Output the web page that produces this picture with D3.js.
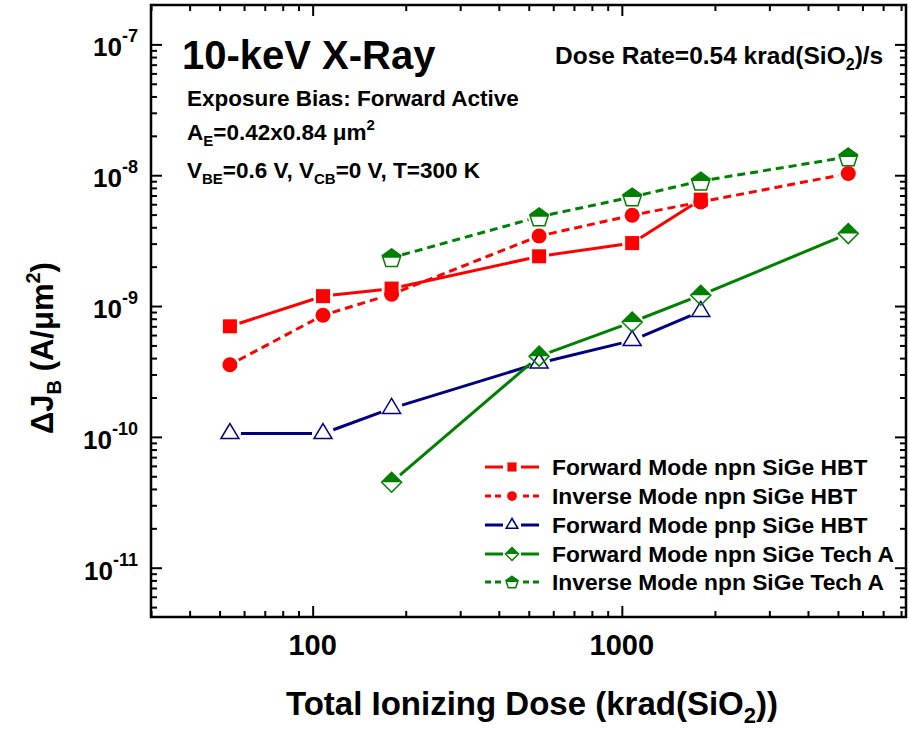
<!DOCTYPE html>
<html>
<head>
<meta charset="utf-8">
<script src="https://cdn.jsdelivr.net/npm/d3@7"></script>
<style>
  body { margin: 0; background: #fff; }
  svg { display: block; font-family: "Liberation Sans", Arial, sans-serif; font-weight: bold; }
</style>
</head>
<body>
<svg id="chart" width="909" height="729"></svg>
<script>
// Total ionizing dose points, krad(SiO2)
const dose = [54, 108, 180, 540, 1080, 1800, 5400];

// Base current density shift, A/um^2 (null = not measured)
const fwdNpnHBT = [7.0e-10, 1.19e-9, 1.36e-9, 2.40e-9, 3.03e-9, 6.5e-9, null];
const invNpnHBT = [3.56e-10, 8.5e-10, 1.23e-9, 3.43e-9, 4.94e-9, 6.25e-9, 1.03e-8];
const fwdPnpHBT = [1.06e-10, 1.06e-10, 1.65e-10, 3.67e-10, 5.45e-10, 9.1e-10, null];
const fwdTechA  = [null, null, 4.5e-11, 4.14e-10, 7.55e-10, 1.21e-9, 3.58e-9];
const invTechA  = [null, null, 2.34e-9, 4.81e-9, 6.82e-9, 9.03e-9, 1.38e-8];

const seriesNames = [
  "Forward Mode npn SiGe HBT",
  "Inverse Mode npn SiGe HBT",
  "Forward Mode pnp SiGe HBT",
  "Forward Mode npn SiGe Tech A",
  "Inverse Mode npn SiGe Tech A"
];

// Tick values
const xMajorTicks = [100, 1000];
const xTickLabels = ["100", "1000"];
const yMajorExps = [-11, -10, -9, -8, -7];

const RED = "#ff0000", NAVY = "#000080", GREEN = "#008000";

const series = [
  { name: seriesNames[0], values: fwdNpnHBT, color: RED,   dash: null,  marker: "square",   gap: 10 },
  { name: seriesNames[1], values: invNpnHBT, color: RED,   dash: "8,5", marker: "circle",   gap: 10 },
  { name: seriesNames[2], values: fwdPnpHBT, color: NAVY,  dash: null,  marker: "triangle", gap: 11 },
  { name: seriesNames[3], values: fwdTechA,  color: GREEN, dash: null,  marker: "diamond",  gap: 11 },
  { name: seriesNames[4], values: invTechA,  color: GREEN, dash: "8,5", marker: "pentagon", gap: 11 }
];

const pLeft = 151, pRight = 906, pTop = 5, pBottom = 617;
const x = d3.scaleLog().domain([30, 8300]).range([pLeft, pRight]);
const y = d3.scaleLog().domain([4.2e-12, 2e-7]).range([pBottom, pTop]);

const svg = d3.select("#chart");

// ---- minor tick values ----
const xMinorTicks = [];
[10, 100, 1000].forEach(d => {
  for (let k = 2; k <= 9; k++) {
    const v = k * d;
    if (v >= 30 && v <= 8300) xMinorTicks.push(v);
  }
});
const yMinorTicks = [];
for (let e = -12; e <= -8; e++) {
  for (let k = 2; k <= 9; k++) {
    const v = k * Math.pow(10, e);
    if (v >= 4.2e-12 && v <= 2e-7) yMinorTicks.push(v);
  }
}
const yMajorTicks = yMajorExps.map(e => Math.pow(10, e));

// ---- ticks on all four sides, pointing inward ----
function tickGroup(axis, tx, ty) {
  const g = svg.append("g").attr("transform", `translate(${tx},${ty})`).call(axis);
  g.select(".domain").remove();
  g.selectAll("text").remove();
  g.selectAll("line").attr("stroke", "#000").attr("stroke-width", 2);
  return g;
}
const MAJ = 11, MIN = 6;
tickGroup(d3.axisBottom(x).tickValues(xMajorTicks).tickSizeInner(-MAJ).tickSizeOuter(0), 0, pBottom);
tickGroup(d3.axisBottom(x).tickValues(xMinorTicks).tickSizeInner(-MIN).tickSizeOuter(0), 0, pBottom);
tickGroup(d3.axisTop(x).tickValues(xMajorTicks).tickSizeInner(-MAJ).tickSizeOuter(0), 0, pTop);
tickGroup(d3.axisTop(x).tickValues(xMinorTicks).tickSizeInner(-MIN).tickSizeOuter(0), 0, pTop);
tickGroup(d3.axisLeft(y).tickValues(yMajorTicks).tickSizeInner(-MAJ).tickSizeOuter(0), pLeft, 0);
tickGroup(d3.axisLeft(y).tickValues(yMinorTicks).tickSizeInner(-MIN).tickSizeOuter(0), pLeft, 0);
tickGroup(d3.axisRight(y).tickValues(yMajorTicks).tickSizeInner(-MAJ).tickSizeOuter(0), pRight, 0);
tickGroup(d3.axisRight(y).tickValues(yMinorTicks).tickSizeInner(-MIN).tickSizeOuter(0), pRight, 0);

// frame
svg.append("rect")
  .attr("x", pLeft).attr("y", pTop)
  .attr("width", pRight - pLeft).attr("height", pBottom - pTop)
  .attr("fill", "none").attr("stroke", "#000").attr("stroke-width", 2.5);

// ---- tick labels ----
svg.append("g").selectAll("text")
  .data(xMajorTicks)
  .join("text")
  .attr("x", d => x(d))
  .attr("y", pBottom + 38)
  .attr("text-anchor", "middle")
  .attr("font-size", 29)
  .text((d, i) => xTickLabels[i]);

svg.append("g").selectAll("text")
  .data(yMajorExps)
  .join("text")
  .attr("x", 138)
  .attr("y", d => y(Math.pow(10, d)) + 12)
  .attr("text-anchor", "end")
  .attr("font-size", 26)
  .each(function (d) {
    const t = d3.select(this);
    t.append("tspan").text("10");
    t.append("tspan").attr("dy", -14).attr("font-size", 18).text(String(d));
  });

// ---- axis titles ----
const xt = svg.append("text")
  .attr("x", 532).attr("y", 715)
  .attr("text-anchor", "middle")
  .attr("font-size", 33);
xt.append("tspan").text("Total Ionizing Dose (krad(SiO");
xt.append("tspan").attr("dy", 8).attr("font-size", 22).text("2");
xt.append("tspan").attr("dy", -8).text("))");

const yt = svg.append("text")
  .attr("transform", "translate(53,348) rotate(-90)")
  .attr("text-anchor", "middle")
  .attr("font-size", 31);
yt.append("tspan").text("\u0394J");
yt.append("tspan").attr("dy", 8).attr("font-size", 20).text("B");
yt.append("tspan").attr("dy", -8).text(" (A/\u03bcm");
yt.append("tspan").attr("dy", -13).attr("font-size", 20).text("2");
yt.append("tspan").attr("dy", 13).text(")");

// ---- annotations ----
svg.append("text").attr("x", 182).attr("y", 69).attr("font-size", 40).text("10-keV X-Ray");
svg.append("text").attr("x", 187).attr("y", 106).attr("font-size", 22.5).text("Exposure Bias: Forward Active");

const ae = svg.append("text").attr("x", 187).attr("y", 140).attr("font-size", 22.5);
ae.append("tspan").text("A");
ae.append("tspan").attr("dy", 6).attr("font-size", 15).text("E");
ae.append("tspan").attr("dy", -6).text("=0.42x0.84 \u03bcm");
ae.append("tspan").attr("dy", -10).attr("font-size", 15).text("2");

const vb = svg.append("text").attr("x", 187).attr("y", 178).attr("font-size", 22.5);
vb.append("tspan").text("V");
vb.append("tspan").attr("dy", 6).attr("font-size", 15).text("BE");
vb.append("tspan").attr("dy", -6).text("=0.6 V, V");
vb.append("tspan").attr("dy", 6).attr("font-size", 15).text("CB");
vb.append("tspan").attr("dy", -6).text("=0 V, T=300 K");

const dr = svg.append("text").attr("x", 555).attr("y", 64).attr("font-size", 24.5);
dr.append("tspan").text("Dose Rate=0.54 krad(SiO");
dr.append("tspan").attr("dy", 6).attr("font-size", 16).text("2");
dr.append("tspan").attr("dy", -6).text(")/s");

// ---- marker drawing ----
function drawMarker(g, type, cx, cy, color, s) {
  // s = scale factor (1 for plot, smaller for legend)
  if (type === "square") {
    const h = 7 * s;
    g.append("rect").attr("x", cx - h).attr("y", cy - h)
      .attr("width", 2 * h).attr("height", 2 * h).attr("fill", color);
  } else if (type === "circle") {
    g.append("circle").attr("cx", cx).attr("cy", cy).attr("r", 7.5 * s).attr("fill", color);
  } else if (type === "triangle") {
    const w = 9 * s, h = 15 * s;
    g.append("path")
      .attr("d", `M${cx},${cy - 2 * h / 3}L${cx + w},${cy + h / 3}L${cx - w},${cy + h / 3}Z`)
      .attr("fill", "none").attr("stroke", color).attr("stroke-width", 1.5);
  } else if (type === "diamond") {
    const r = 10 * s;
    g.append("path")
      .attr("d", `M${cx - r},${cy}L${cx},${cy - r}L${cx + r},${cy}Z`)
      .attr("fill", color);
    g.append("path")
      .attr("d", `M${cx},${cy - r}L${cx + r},${cy}L${cx},${cy + r}L${cx - r},${cy}Z`)
      .attr("fill", "none").attr("stroke", color).attr("stroke-width", 1.5);
  } else if (type === "pentagon") {
    const R = 9.8 * s;
    const off = 0.0955 * R;
    const pts = [-90, -18, 54, 126, 198].map(a => {
      const r = a * Math.PI / 180;
      return [cx + R * Math.cos(r), cy + R * Math.sin(r) + off];
    });
    g.append("path")
      .attr("d", "M" + pts.map(p => p.join(",")).join("L") + "Z")
      .attr("fill", "none").attr("stroke", color).attr("stroke-width", 1.5);
    const yUL = cy - 0.309 * R + off;
    const topFill = [
      [cx, cy - R + off], [cx + 0.951 * R, yUL], [cx + 0.882 * R, cy],
      [cx - 0.882 * R, cy], [cx - 0.951 * R, yUL]
    ];
    g.append("path")
      .attr("d", "M" + topFill.map(p => p.join(",")).join("L") + "Z")
      .attr("fill", color);
  }
}

// ---- series lines (segments stop short of markers) and markers ----
const plot = svg.append("g");
series.forEach(s => {
  const pts = dose.map((d, i) => ({ d, v: s.values[i] })).filter(p => p.v != null)
    .map(p => ({ px: x(p.d), py: y(p.v) }));
  const lg = plot.append("g");
  for (let i = 0; i < pts.length - 1; i++) {
    const a = pts[i], b = pts[i + 1];
    const dx = b.px - a.px, dy = b.py - a.py;
    const len = Math.hypot(dx, dy);
    if (len <= 2 * s.gap) continue;
    const ux = dx / len, uy = dy / len;
    lg.append("line")
      .attr("x1", a.px + ux * s.gap).attr("y1", a.py + uy * s.gap)
      .attr("x2", b.px - ux * s.gap).attr("y2", b.py - uy * s.gap)
      .attr("stroke", s.color).attr("stroke-width", 3)
      .attr("stroke-dasharray", s.dash);
  }
  s.pts = pts;
});
series.forEach(s => {
  const mg = plot.append("g");
  s.pts.forEach(p => drawMarker(mg, s.marker, p.px, p.py, s.color, 1));
});

// ---- legend ----
const legendRows = [467, 496, 525, 554, 582];
const legend = svg.append("g");
series.forEach((s, i) => {
  const cy = legendRows[i];
  const mx = 512;
  if (s.dash) {
    [[485, 491], [495, 501], [523, 529], [533, 539]].forEach(seg => {
      legend.append("line").attr("x1", seg[0]).attr("x2", seg[1]).attr("y1", cy).attr("y2", cy)
        .attr("stroke", s.color).attr("stroke-width", 3);
    });
  } else {
    legend.append("line").attr("x1", 485).attr("x2", 503).attr("y1", cy).attr("y2", cy)
      .attr("stroke", s.color).attr("stroke-width", 3);
    legend.append("line").attr("x1", 521).attr("x2", 539).attr("y1", cy).attr("y2", cy)
      .attr("stroke", s.color).attr("stroke-width", 3);
  }
  drawMarker(legend, s.marker, mx, cy, s.color, 0.65);
  legend.append("text").attr("x", 552).attr("y", cy + 8).attr("font-size", 22.8).text(s.name);
});
</script>
</body>
</html>
